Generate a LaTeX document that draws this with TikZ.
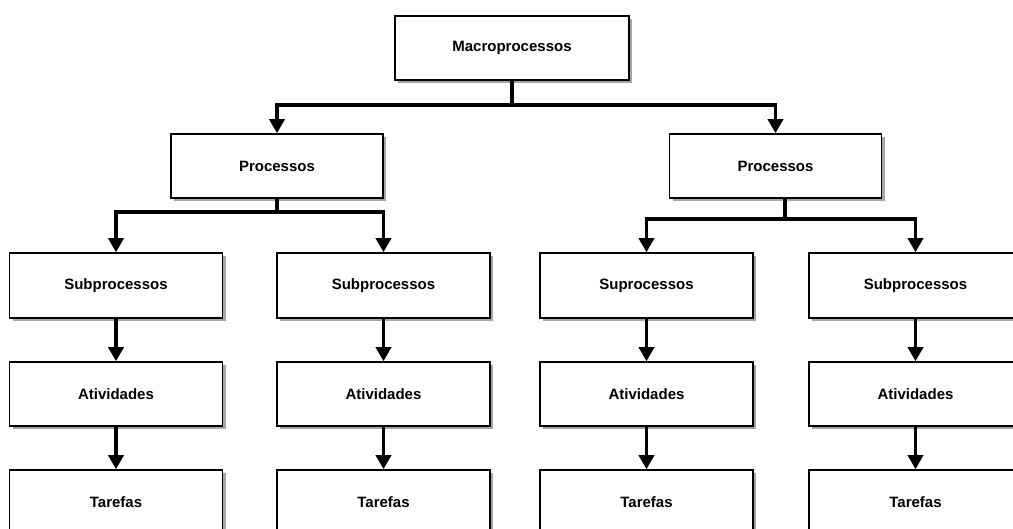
\documentclass[tikz,border=0pt]{standalone}
\usepackage{fontspec}
\setmainfont{Liberation Sans}
\usetikzlibrary{arrows.meta,shadows}
\tikzset{
  box/.style={draw=black, line width=1.5pt, fill=white, rectangle,
    minimum height=64pt, inner sep=0pt, font=\bfseries\fontsize{15pt}{18pt}\selectfont,
    drop shadow={shadow xshift=3pt, shadow yshift=-3pt, fill=black!35, opacity=1}},
  conn/.style={line width=3.4pt, -{Triangle[width=15pt,length=14pt]}},
  bar/.style={line width=3.4pt}
}
\begin{document}
\begin{tikzpicture}[x=1pt,y=-1pt]
\useasboundingbox (0,0) rectangle (1013,529);
\clip (0,0) rectangle (1013,529);
\node[box, minimum width=234pt] (macro) at (512,48) {Macroprocessos};
\node[box, minimum width=212pt] (p1) at (277,166) {Processos};
\node[box, minimum width=212pt] (p2) at (775.5,166) {Processos};
\foreach \n/\x/\t in {1/116/Subprocessos, 2/383.5/Subprocessos, 3/646.5/Suprocessos, 4/915.5/Subprocessos}{
  \node[box, minimum width=213pt, minimum height=65pt] (s\n) at (\x,285.5) {\t};
  \node[box, minimum width=213pt] (a\n) at (\x,394) {Atividades};
  \node[box, minimum width=213pt] (t\n) at (\x,502) {Tarefas};
  \draw[conn] (s\n) -- (a\n);
  \draw[conn] (a\n) -- (t\n);
}
% top level
\coordinate (mb) at (512,105);
\draw[bar] (macro.south) -- (mb);
\draw[conn] (mb) -| (p1.north);
\draw[conn] (mb) -| (p2.north);
% left processos
\coordinate (lb) at (277,212);
\draw[bar] (p1.south) -- (lb);
\draw[conn] (lb) -| (s1.north);
\draw[conn] (lb) -| (s2.north);
% right processos
\coordinate (rs) at ([xshift=9.5pt]p2.south);
\coordinate (rb) at (785,219);
\draw[bar] (rs) -- (rb);
\draw[conn] (rb) -| (s3.north);
\draw[conn] (rb) -| (s4.north);
\end{tikzpicture}
\end{document}
